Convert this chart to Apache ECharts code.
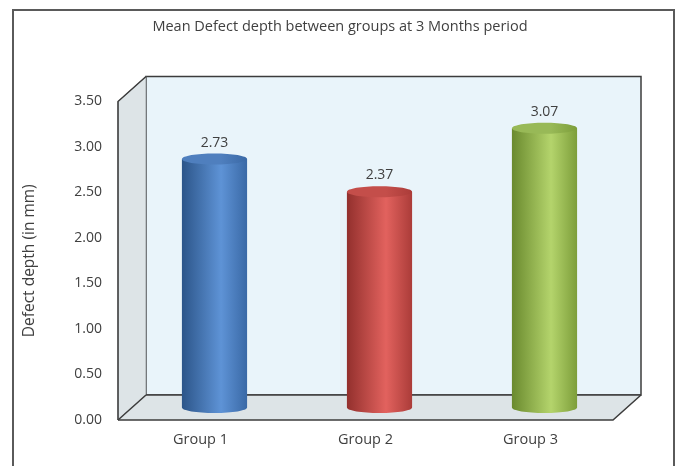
<!DOCTYPE html>
<html>
<head>
<meta charset="utf-8">
<script src="https://cdn.jsdelivr.net/npm/echarts@6/dist/echarts.min.js"></script>
<style>
  html, body { margin: 0; padding: 0; background: #fff; }
  #chart { width: 680px; height: 466px; }
</style>
</head>
<body>
<div id="chart"></div>
<script>
// Mean defect depth per group at the 3-month follow-up
const categories = ['Group 1', 'Group 2', 'Group 3'];
const values = [2.73, 2.37, 3.07];
const yTicks = { min: 0, max: 3.5, step: 0.5 };

// Cylinder shading per bar: [edge dark, highlight, edge right, cap]
const palettes = [
  ['#2c5589', '#5e93d6', '#3a69a6', '#4f7fbe'],
  ['#93302d', '#e2625e', '#ab3c39', '#c44e4a'],
  ['#6a8a2e', '#b4d46c', '#7d9e3a', '#98b957']
];

// Depth of the 3D box (x shift, y shift toward the back wall)
const DX = 28, DY = 25;

const chart = echarts.init(document.getElementById('chart'), null, { renderer: 'canvas' });

function renderBox(params, api) {
  const cs = params.coordSys;
  const x0 = cs.x, y0 = cs.y, x1 = cs.x + cs.width, y1 = cs.y + cs.height;
  const edge = { stroke: '#3c3c3c', lineWidth: 1.5, fill: 'none' };
  return {
    type: 'group',
    children: [
      // back wall
      { type: 'rect', shape: { x: x0 + DX, y: y0 - DY, width: cs.width, height: cs.height },
        style: { fill: '#e9f4fa', stroke: '#3c3c3c', lineWidth: 1.5 } },
      // left side wall
      { type: 'polygon', shape: { points: [[x0, y0], [x0 + DX, y0 - DY], [x0 + DX, y1 - DY], [x0, y1]] },
        style: { fill: '#dde4e7', stroke: '#8a9094', lineWidth: 0.8 } },
      // floor
      { type: 'polygon', shape: { points: [[x0, y1], [x0 + DX, y1 - DY], [x1 + DX, y1 - DY], [x1, y1]] },
        style: { fill: '#dde4e7' } },
      // outlines
      { type: 'polyline', shape: { points: [[x0, y1], [x0, y0], [x0 + DX, y0 - DY]] }, style: edge },
      { type: 'polyline', shape: { points: [[x0, y1], [x1, y1], [x1 + DX, y1 - DY]] }, style: edge },
      { type: 'line', shape: { x1: x0, y1: y1, x2: x0 + DX, y2: y1 - DY }, style: edge },
      { type: 'line', shape: { x1: x0 + DX, y1: y1 - DY, x2: x1 + DX, y2: y1 - DY }, style: edge }
    ]
  };
}

function renderCylinder(params, api) {
  const idx = api.value(0);
  const val = api.value(1);
  const top = api.coord([idx, val]);
  const base = api.coord([idx, 0]);
  const band = api.size([1, 0])[0];
  const w = band * 0.395;
  const rx = w / 2, ry = 5.5;
  const cx = top[0] + DX / 2;
  const ty = top[1] - DY / 2;
  const by = base[1] - DY / 2;
  const p = palettes[params.dataIndex];
  const bodyFill = new echarts.graphic.LinearGradient(0, 0, 1, 0, [
    { offset: 0, color: p[0] },
    { offset: 0.6, color: p[1] },
    { offset: 1, color: p[2] }
  ]);
  const capFill = new echarts.graphic.LinearGradient(0, 0, 1, 0, [
    { offset: 0, color: p[3] },
    { offset: 0.6, color: p[3] },
    { offset: 1, color: p[2] }
  ]);
  return {
    type: 'group',
    children: [
      { type: 'ellipse', shape: { cx: cx, cy: by, rx: rx, ry: ry }, style: { fill: bodyFill } },
      { type: 'rect', shape: { x: cx - rx, y: ty, width: w, height: by - ty }, style: { fill: bodyFill } },
      { type: 'ellipse', shape: { cx: cx, cy: ty, rx: rx, ry: ry }, style: { fill: capFill } },
      { type: 'text', style: {
          text: val.toFixed(2), x: cx, y: ty - ry - 4,
          align: 'center', verticalAlign: 'bottom',
          fill: '#404040', font: '14px "Open Sans", sans-serif'
      } }
    ]
  };
}

chart.setOption({
  animation: false,
  backgroundColor: '#ffffff',
  title: {
    text: 'Mean Defect depth between groups at 3 Months period',
    left: 'center', top: 14,
    textStyle: { fontFamily: 'Open Sans', fontSize: 14.5, fontWeight: 'normal', color: '#404040' }
  },
  graphic: [
    { type: 'polyline', silent: true, z: -10,
      shape: { points: [[13, 480], [13, 10], [674, 10], [674, 480]] },
      style: { stroke: '#5a5a5a', lineWidth: 2, fill: 'none' } }
  ],
  grid: { left: 118, right: 67, top: 101.5, bottom: 46 },
  xAxis: {
    type: 'category',
    data: categories,
    axisLine: { show: false },
    axisTick: { show: false },
    axisLabel: { margin: 12, color: '#404040', fontFamily: 'Open Sans', fontSize: 14.5 }
  },
  yAxis: {
    type: 'value',
    min: yTicks.min, max: yTicks.max, interval: yTicks.step,
    name: 'Defect depth (in mm)',
    nameLocation: 'middle', nameGap: 80,
    nameTextStyle: { color: '#404040', fontFamily: 'Open Sans', fontSize: 15.5 },
    axisLine: { show: false },
    axisTick: { show: false },
    splitLine: { show: false },
    axisLabel: { margin: 16, color: '#404040', fontFamily: 'Open Sans', fontSize: 14,
      formatter: v => v.toFixed(2) }
  },
  series: [
    { type: 'custom', silent: true, z: 1, renderItem: renderBox, data: [[0, 0]] },
    { type: 'custom', z: 2, renderItem: renderCylinder,
      data: values.map((v, i) => [i, v]) }
  ]
});
</script>
</body>
</html>
